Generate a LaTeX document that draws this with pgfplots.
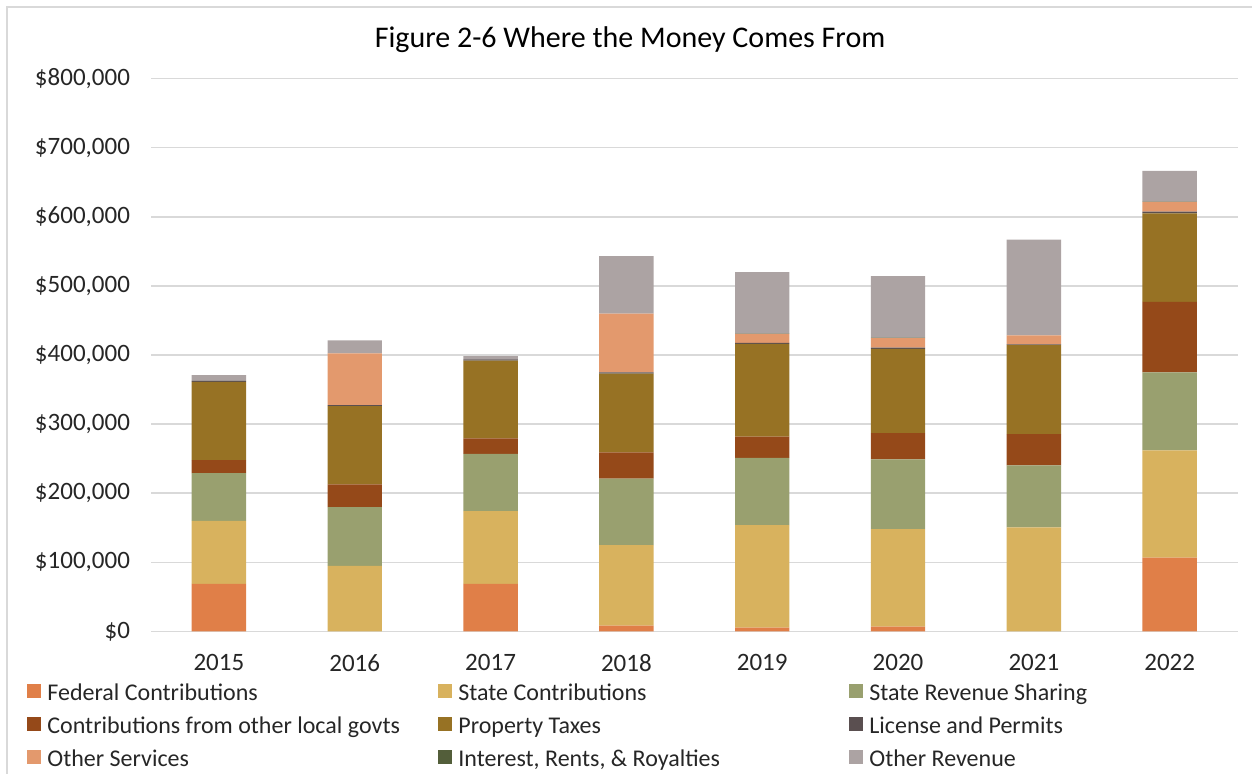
\documentclass[border=0pt]{standalone}
\usepackage{fontspec}
\setmainfont{Carlito}
\usepackage{pgfplots}
\pgfplotsset{compat=1.18}
\usepackage{pgfplotstable}

\definecolor{cFed}{HTML}{E07F48}
\definecolor{cState}{HTML}{D8B25E}
\definecolor{cSRS}{HTML}{99A06F}
\definecolor{cLocal}{HTML}{954919}
\definecolor{cProp}{HTML}{977224}
\definecolor{cLic}{HTML}{5A4F50}
\definecolor{cOS}{HTML}{E3996D}
\definecolor{cInt}{HTML}{535E3A}
\definecolor{cOR}{HTML}{ACA3A3}
\definecolor{gridc}{HTML}{D9D9D9}

\pgfplotstableread{
x Fed State SRS Local Prop Lic OS Int OR
0 69000 91000 69000 19000 113000 1500 0 0 8500
1 0 95000 85000 33000 113000 1500 75000 0 18500
2 69000 105000 83000 22500 112200 2000 0 0 4800
3 8500 116500 96000 38000 114000 2000 85000 0 83000
4 5500 148500 97000 31000 134000 1500 13000 500 89000
5 7000 141000 101000 38000 122000 1500 14000 500 89000
6 0 150500 90000 45000 129000 1000 13000 0 138500
7 107000 155000 113000 102000 128000 2500 14000 500 44500
}\datatable

\newcommand{\legent}[1]{\addlegendentry{\makebox[194pt][l]{\strut #1}}}

\begin{document}
\begin{tikzpicture}
\path[use as bounding box] (0,0) rectangle (626pt,387pt);
\draw[color=gridc, line width=0.75pt] (3.5pt,0) -- (3.5pt,383.5pt) -- (626pt,383.5pt);
\node[font=\fontsize{15}{18}\selectfont] at (315pt,367pt) {Figure 2-6 Where the Money Comes From};
\begin{axis}[
  at={(75.5pt,71.25pt)}, anchor=south west,
  scale only axis, width=543.3pt, height=276.5pt,
  xmin=-0.5, xmax=7.5, ymin=0, ymax=800000,
  ybar stacked, bar width=27.2pt,
  xtick={0,...,7}, xticklabels={2015,2016,2017,2018,2019,2020,2021,2022},
  ytick={0,100000,...,800000},
  scaled y ticks=false,
  yticklabel={\$\pgfmathprintnumber{\tick}},
  /pgf/number format/fixed,
  /pgf/number format/1000 sep={,},
  /pgf/number format/assume math mode=true,
  ymajorgrids, grid style={color=gridc, line width=0.75pt},
  axis line style={draw=none},
  major tick length=0pt, tick style={draw=none},
  ticklabel style={font=\fontsize{12.5}{15}\selectfont, text=black!85},
  yticklabel style={xshift=-7pt},
  xticklabel style={yshift=-8pt},
  legend columns=3,
  legend cell align=left,
  legend style={at={(0,0)}, anchor=north west, xshift=-62pt, yshift=-23pt,
    draw=none, fill=none, inner sep=0pt, row sep=3pt, column sep=0pt,
    font=\fontsize{12}{15}\selectfont, text=black!85,
    nodes={inner xsep=1.5pt, inner ysep=0.75pt}},
  legend image code/.code={\fill[#1] (0pt,-3.5pt) rectangle (7pt,3.5pt); \path (8.5pt,0pt);},
]
\addplot[fill=cFed, draw=none] table[x=x,y=Fed]{\datatable}; \legent{Federal Contributions}
\addplot[fill=cState, draw=none] table[x=x,y=State]{\datatable}; \legent{State Contributions}
\addplot[fill=cSRS, draw=none] table[x=x,y=SRS]{\datatable}; \legent{State Revenue Sharing}
\addplot[fill=cLocal, draw=none] table[x=x,y=Local]{\datatable}; \legent{Contributions from other local govts}
\addplot[fill=cProp, draw=none] table[x=x,y=Prop]{\datatable}; \legent{Property Taxes}
\addplot[fill=cLic, draw=none] table[x=x,y=Lic]{\datatable}; \legent{License and Permits}
\addplot[fill=cOS, draw=none] table[x=x,y=OS]{\datatable}; \legent{Other Services}
\addplot[fill=cInt, draw=none] table[x=x,y=Int]{\datatable}; \legent{Interest, Rents, \& Royalties}
\addplot[fill=cOR, draw=none] table[x=x,y=OR]{\datatable}; \legent{Other Revenue}
\end{axis}
\end{tikzpicture}
\end{document}
